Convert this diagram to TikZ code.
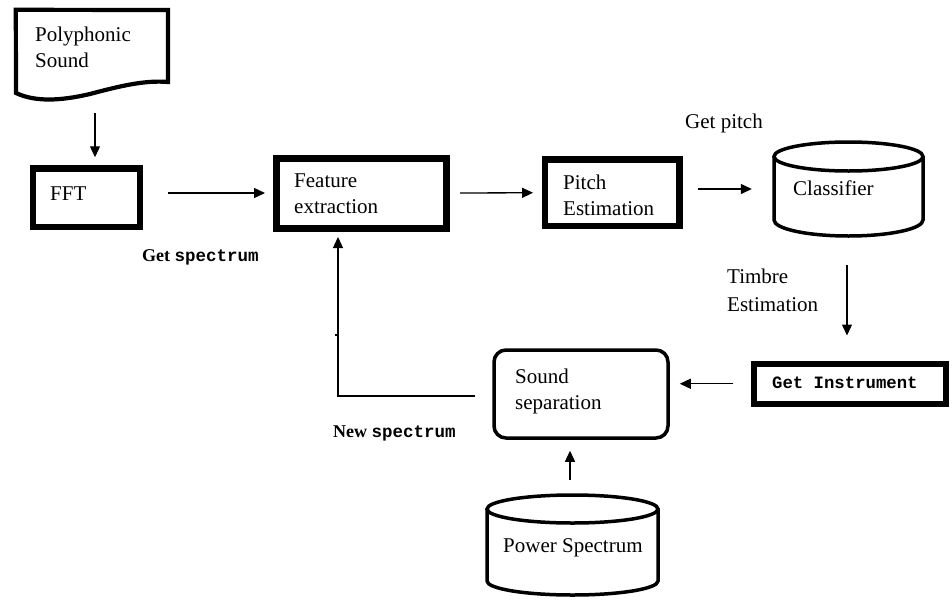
\documentclass[tikz,border=0pt]{standalone}
\usepackage{fontspec}
\setmainfont{Liberation Serif}
\setmonofont{Liberation Mono}
\usetikzlibrary{arrows.meta,calc}
\begin{document}
\begin{tikzpicture}[x=1pt,y=-1pt,
  box/.style={draw, rectangle, inner sep=0pt},
  ghost/.style={rectangle, inner sep=0pt, draw=none},
  txt/.style={anchor=base west, inner sep=0pt, align=left, font=\fontsize{21}{25.5}\selectfont},
  lbl/.style={anchor=base west, inner sep=0pt, font=\fontsize{18}{22}\selectfont\bfseries},
  arr/.style={line width=1.3pt, -{Triangle[length=11pt,width=10pt]}},
  cyl/.style={line width=3.5pt}
]
\useasboundingbox (0,0) rectangle (952,605);

% --- Polyphonic Sound (document shape)
\node[ghost, minimum width=156pt, minimum height=92pt] (poly) at (92,54) {};
\draw[line width=4.2pt, line join=miter]
  (poly.north west) ++(2,2) coordinate (p1)
  (p1) -- (168,10) -- (168,82)
  .. controls (145,80) and (120,86) .. (90,94)
  .. controls (60,101) and (35,102) .. (16,93) -- cycle;
\node[txt] (polyt) at (35,67) {Polyphonic\\Sound};

% --- FFT
\node[box, line width=6.5pt, minimum width=107pt, minimum height=58.5pt] (fft) at (86.5,197.75) {};
\node[txt] (fftt) at (50,200) {FFT};

% --- Feature extraction
\node[box, line width=7pt, minimum width=169.5pt, minimum height=70pt] (fe) at (361.25,193) {};
\node[txt] (fet) at (294,213) {Feature\\extraction};

% --- Pitch Estimation
\node[box, line width=6.7pt, minimum width=134.5pt, minimum height=66.5pt] (pe) at (612.25,192.75) {};
\node[txt] (pet) at (563,215) {Pitch\\Estimation};

% --- Classifier (cylinder)
\node[ghost, minimum width=153pt, minimum height=98pt] (cls) at (848.5,189) {};
\draw[cyl] (848.5,156.5) ellipse [x radius=74.5, y radius=14.5];
\draw[cyl] (774,156.5) -- (774,220) arc[start angle=180, end angle=0, x radius=74.5, y radius=16] -- (923,156.5);
\node[txt] (clst) at (793,195) {Classifier};
\node[txt] (gp) at (685,128) {Get pitch};

% --- Timbre Estimation label
\node[txt, font=\fontsize{21}{28}\selectfont] (te) at (727,311) {Timbre\\Estimation};

% --- Get Instrument
\node[box, line width=6pt, minimum width=192pt, minimum height=40.5pt] (gi) at (850,383.75) {};
\node[anchor=base west, inner sep=0pt, font=\fontsize{17.3}{20}\selectfont\ttfamily\bfseries] (git) at (772,388) {Get Instrument};

% --- Sound separation
\node[box, line width=3.5pt, rounded corners=12pt, minimum width=174pt, minimum height=88pt] (ss) at (581,394) {};
\node[txt] (sst) at (515,409) {Sound\\separation};

% --- Power Spectrum (cylinder)
\node[ghost, minimum width=175pt, minimum height=104pt] (ps) at (572.5,545) {};
\draw[cyl] (572.5,509) ellipse [x radius=85.5, y radius=14];
\draw[cyl] (487,509) -- (487,581) arc[start angle=180, end angle=0, x radius=85.5, y radius=14] -- (658,509);
\node[txt] (pst) at (503,552) {Power Spectrum};

% --- labels
\node[lbl] (gs) at (142,261) {Get {\fontsize{17.5}{22}\selectfont\ttfamily spectrum}};
\node[lbl] (ns) at (333,437) {New {\fontsize{17.5}{22}\selectfont\ttfamily spectrum}};

% --- connectors
\draw[arr, shorten <=13pt, shorten >=8pt] ([xshift=3pt]poly.south) -- ([xshift=8.5pt]fft.north);
\draw[arr, shorten <=25pt, shorten >=8pt] (fft.east |- fe.west) -- (fe.west);
\draw[arr, shorten <=10.5pt, shorten >=8.6pt] (fe.east) -- (pe.west);
\draw[arr, shorten <=15pt, shorten >=20pt] (cls.west -| pe.east) -- (cls.west);
\draw[arr, shorten <=27pt, shorten >=25pt] ([xshift=-1.5pt]cls.south) -- ([xshift=-1.5pt]cls.south |- gi.north);
\draw[arr, shorten <=17.75pt, shorten >=10pt] (gi.west) -- (gi.west -| ss.east);
\draw[arr, shorten <=13pt, shorten >=11pt] ([xshift=-2.5pt]ps.north) -- ([xshift=-2.5pt]ps.north |- ss.south);
\coordinate (fb) at (338,396);
\draw[arr, shorten <=17pt, shorten >=5.5pt] (ss.west |- fb) -- (fb) -- (fb |- fe.south);
\draw[line width=1.3pt] ($(fb)+(0,-61)$) -- ++(-3.5,0);
\end{tikzpicture}
\end{document}
